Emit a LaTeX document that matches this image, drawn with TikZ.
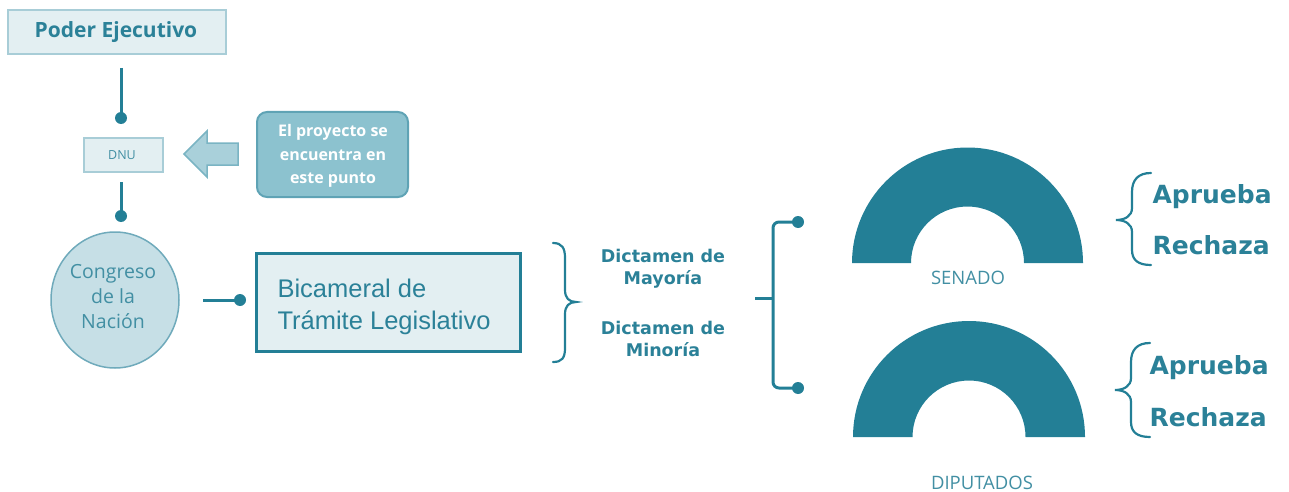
\documentclass[tikz,border=0pt]{standalone}
\usepackage{fontspec}
\newfontfamily\osans{Open Sans}
\newfontfamily\djv{DejaVu Sans}
\newfontfamily\lib{Liberation Sans}
\definecolor{teal1}{HTML}{237F96}
\definecolor{tealtxt}{HTML}{2B8198}
\definecolor{lightfill}{HTML}{E3EFF2}
\definecolor{lightborder}{HTML}{A8CDD7}
\definecolor{circfill}{HTML}{C6DFE6}
\definecolor{circborder}{HTML}{6FAABB}
\definecolor{arrfill}{HTML}{A9D0DA}
\definecolor{arrborder}{HTML}{7AB4C3}
\definecolor{callfill}{HTML}{8CC2CF}
\definecolor{callborder}{HTML}{5FA3B5}
\definecolor{midtxt}{HTML}{428FA3}
\begin{document}
\begin{tikzpicture}[x=1pt,y=1pt,
  conn/.style={draw=teal1,line width=3pt},
  dotc/.style={fill=teal1},
  bracestyle/.style={draw=teal1,line width=2.2pt,line cap=round},
  arch/.style={fill=teal1},
  lightbox/.style={draw=lightborder,fill=lightfill,line width=1.5pt},
  answer/.style={anchor=west,text=tealtxt,font=\djv\bfseries\fontsize{25}{27}\selectfont},
  dict/.style={text=tealtxt,align=center,font=\djv\bfseries\fontsize{17.5}{22}\selectfont},
]
\useasboundingbox (0,0) rectangle (1289,-492);

% Poder Ejecutivo
\path[lightbox] (8,-10) rectangle (226,-54);
\node[text=tealtxt,font=\osans\bfseries\fontsize{21}{25}\selectfont] (poder) at (116,-32) {Poder Ejecutivo};

% DNU
\path[lightbox] (84,-138) rectangle (163,-172);
\node[text=midtxt,font=\osans\fontsize{12.5}{14}\selectfont] (dnu) at (122,-155) {DNU};

% connectors with dots
\coordinate (p1) at (121,-68);
\coordinate (d1) at (121,-118);
\coordinate (p2) at (121,-182);
\coordinate (d2) at (121,-216);
\draw[conn] (p1) -- (d1);
\fill[dotc] (d1) circle (6);
\draw[conn] (p2) -- (d2);
\fill[dotc] (d2) circle (6);

% block arrow
\draw[fill=arrfill,draw=arrborder,line width=1.5pt,line join=miter]
  (184,-154) -- (207,-131) -- (207,-143) -- (238,-143) -- (238,-165) -- (207,-165) -- (207,-177) -- cycle;

% callout
\draw[fill=callfill,draw=callborder,line width=2pt,rounded corners=10pt] (257,-112) rectangle (408,-197);
\node[text=white,align=center,font=\osans\bfseries\fontsize{16}{23.5}\selectfont] (callout) at (333,-156) {El proyecto se\\encuentra en\\este punto};

% Congreso
\draw[fill=circfill,draw=circborder,line width=1.5pt] (115,-300) ellipse [x radius=64, y radius=68];
\node[text=midtxt,align=center,font=\osans\fontsize{19.5}{25}\selectfont] (congreso) at (113,-297) {Congreso\\de la\\Nación};

\coordinate (c1) at (203,-300);
\coordinate (c2) at (240,-300);
\draw[conn] (c1) -- (c2);
\fill[dotc] (c2) circle (6);

% Bicameral
\draw[draw=teal1,fill=lightfill,line width=3pt] (256,-253) rectangle (520,-351);
\node[anchor=west,text=tealtxt,align=left,font=\lib\fontsize{25.5}{32}\selectfont] (bicam) at (274,-307) {Bicameral de\\Trámite Legislativo};

% brace right
\draw[bracestyle] (553,-243) .. controls (562,-243) and (565,-248) .. (565,-258) -- (565,-290)
  .. controls (565,-298) and (569,-302) .. (576,-302)
  .. controls (569,-302) and (565,-306) .. (565,-314) -- (565,-348)
  .. controls (565,-358) and (562,-362) .. (553,-362);

% Dictamen
\node[dict] (mayoria) at (663,-269) {Dictamen de\\Mayoría};
\node[dict] (minoria) at (663,-339) {Dictamen de\\Minoría};

% bracket connector
\coordinate (b0) at (755,-298);
\coordinate (bm) at (773,-298);
\coordinate (bs) at (798,-222);
\coordinate (bd) at (798,-388);
\draw[conn] (b0) -- (bm);
\draw[conn,rounded corners=6pt] (bs) -- (773,-222) -- (773,-388) -- (bd);
\fill[dotc] (bs) circle (6);
\fill[dotc] (bd) circle (6);

% arches
\fill[arch] (852,-263) arc[start angle=180,end angle=0,radius=115.5] -- (1024,-263) arc[start angle=0,end angle=180,radius=56.5] -- cycle;
\fill[arch] (853,-437) arc[start angle=180,end angle=0,radius=116] -- (1025.5,-437) arc[start angle=0,end angle=180,radius=56.5] -- cycle;
\node[text=midtxt,font=\osans\fontsize{18.5}{20}\selectfont] (senado) at (968,-278) {SENADO};
\node[text=midtxt,font=\osans\fontsize{18.5}{20}\selectfont] (diputados) at (982,-483) {DIPUTADOS};

% left braces
\draw[bracestyle] (1151,-173) .. controls (1138,-173) and (1132,-180) .. (1132,-192) -- (1132,-208)
  .. controls (1132,-216) and (1125,-220) .. (1116,-220)
  .. controls (1125,-220) and (1132,-224) .. (1132,-232) -- (1132,-250)
  .. controls (1132,-260) and (1138,-265) .. (1151,-265);
\draw[bracestyle] (1150,-343) .. controls (1137,-343) and (1131,-350) .. (1131,-362) -- (1131,-378)
  .. controls (1131,-386) and (1124,-390) .. (1115,-390)
  .. controls (1124,-390) and (1131,-394) .. (1131,-402) -- (1131,-422)
  .. controls (1131,-432) and (1137,-437) .. (1150,-437);

\node[answer] (ap1) at (1149,-197) {Aprueba};
\node[answer] (re1) at (1149,-245) {Rechaza};
\node[answer] (ap2) at (1146,-368) {Aprueba};
\node[answer] (re2) at (1146,-417) {Rechaza};
\end{tikzpicture}
\end{document}
